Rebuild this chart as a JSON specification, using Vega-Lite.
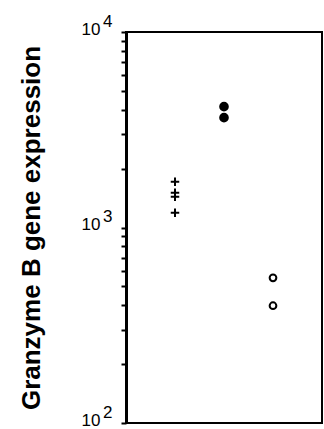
{
  "$schema": "https://vega.github.io/schema/vega-lite/v6.json",
  "autosize": "none",
  "width": 196,
  "height": 391,
  "padding": {"left": 126, "top": 32, "right": 2, "bottom": 6},
  "background": "white",
  "config": {"view": {"stroke": "black", "strokeWidth": 2}},
  "data": {"values": [
    {"group": "cross", "x": 1, "value": 1714},
    {"group": "cross", "x": 1, "value": 1507},
    {"group": "cross", "x": 1, "value": 1437},
    {"group": "cross", "x": 1, "value": 1191},
    {"group": "filled", "x": 2, "value": 4150},
    {"group": "filled", "x": 2, "value": 3645},
    {"group": "open", "x": 3, "value": 553},
    {"group": "open", "x": 3, "value": 398}
  ]},
  "mark": {"type": "point", "filled": true, "stroke": "black", "strokeWidth": 2, "opacity": 1},
  "encoding": {
    "x": {"field": "x", "type": "quantitative", "scale": {"domain": [0, 4]}, "axis": null},
    "y": {"field": "value", "type": "quantitative",
      "scale": {"type": "log", "domain": [100, 10000], "nice": false},
      "axis": {
        "orient": "left",
        "values": [100,200,300,400,500,600,700,800,900,1000,2000,3000,4000,5000,6000,7000,8000,9000,10000],
        "labelExpr": "datum.value == 100 ? ['2', '10\u2800'] : datum.value == 1000 ? ['3', '10\u2800'] : datum.value == 10000 ? ['4', '10\u2800'] : ''",
        "tickSize": 5, "tickWidth": 2, "tickColor": "black",
        "domainColor": "black", "domainWidth": 3,
        "labelFont": "Liberation Sans", "labelFontSize": 17, "labelColor": "black",
        "labelLineHeight": 8,
        "labelPadding": 9, "labelBaseline": "alphabetic", "labelOffset": -6, "labelAlign": "right",
        "labelFlush": false, "labelOverlap": false, "labelBound": false,
        "grid": false,
        "title": "Granzyme B gene expression",
        "titleFont": "Liberation Sans", "titleFontSize": 26, "titleFontWeight": "bold", "titleColor": "black",
        "titlePadding": 37
      }
    },
    "shape": {"field": "group", "type": "nominal",
      "scale": {"domain": ["cross", "filled", "open"], "range": ["M-1,0H1M0,-1V1", "circle", "circle"]},
      "legend": null},
    "fill": {"field": "group", "type": "nominal",
      "scale": {"domain": ["cross", "filled", "open"], "range": ["transparent", "black", "white"]},
      "legend": null},
    "size": {"field": "group", "type": "nominal",
      "scale": {"domain": ["cross", "filled", "open"], "range": [72, 45, 34]},
      "legend": null}
  }
}
